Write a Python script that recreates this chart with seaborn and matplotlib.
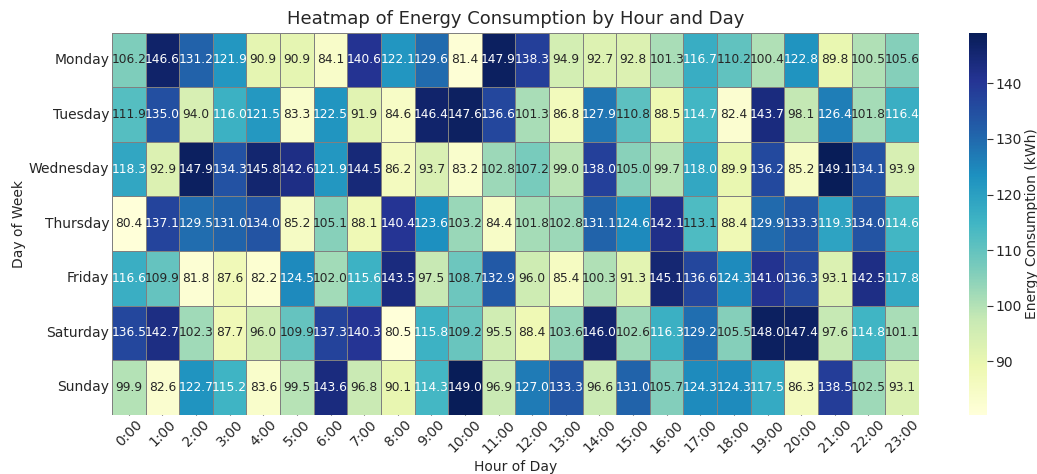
import pandas as pd
import matplotlib
matplotlib.use("Agg")
import matplotlib.pyplot as plt
import seaborn as sns

days = ["Monday", "Tuesday", "Wednesday", "Thursday", "Friday", "Saturday", "Sunday"]
hours = [f"{h}:00" for h in range(24)]

monday = [106.2, 146.6, 131.2, 121.9, 90.9, 90.9, 84.1, 140.6, 122.1, 129.6, 81.4, 147.9,
          138.3, 94.9, 92.7, 92.8, 101.3, 116.7, 110.2, 100.4, 122.8, 89.8, 100.5, 105.6]
tuesday = [111.9, 135.0, 94.0, 116.0, 121.5, 83.3, 122.5, 91.9, 84.6, 146.4, 147.6, 136.6,
           101.3, 86.8, 127.9, 110.8, 88.5, 114.7, 82.4, 143.7, 98.1, 126.4, 101.8, 116.4]
wednesday = [118.3, 92.9, 147.9, 134.3, 145.8, 142.6, 121.9, 144.5, 86.2, 93.7, 83.2, 102.8,
             107.2, 99.0, 138.0, 105.0, 99.7, 118.0, 89.9, 136.2, 85.2, 149.1, 134.1, 93.9]
thursday = [80.4, 137.1, 129.5, 131.0, 134.0, 85.2, 105.1, 88.1, 140.4, 123.6, 103.2, 84.4,
            101.8, 102.8, 131.1, 124.6, 142.1, 113.1, 88.4, 129.9, 133.3, 119.3, 134.0, 114.6]
friday = [116.6, 109.9, 81.8, 87.6, 82.2, 124.5, 102.0, 115.6, 143.5, 97.5, 108.7, 132.9,
          96.0, 85.4, 100.3, 91.3, 145.1, 136.6, 124.3, 141.0, 136.3, 93.1, 142.5, 117.8]
saturday = [136.5, 142.7, 102.3, 87.7, 96.0, 109.9, 137.3, 140.3, 80.5, 115.8, 109.2, 95.5,
            88.4, 103.6, 146.0, 102.6, 116.3, 129.2, 105.5, 148.0, 147.4, 97.6, 114.8, 101.1]
sunday = [99.9, 82.6, 122.7, 115.2, 83.6, 99.5, 143.6, 96.8, 90.1, 114.3, 149.0, 96.9,
          127.0, 133.3, 96.6, 131.0, 105.7, 124.3, 124.3, 117.5, 86.3, 138.5, 102.5, 93.1]

df = pd.DataFrame([monday, tuesday, wednesday, thursday, friday, saturday, sunday],
                  index=days, columns=hours)

sns.set_style("white")
fig = plt.figure(figsize=(10.37, 4.74), dpi=100)
ax = fig.add_axes([0.108, 0.125, 0.778, 0.806])
cax = fig.add_axes([0.934, 0.125, 0.018, 0.806])

sns.heatmap(df, ax=ax, cbar_ax=cax, cmap="YlGnBu", annot=True, fmt=".1f",
            linewidths=0.5, linecolor="gray", annot_kws={"size": 8.8},
            cbar_kws={"label": "Energy Consumption (kWh)"})

ax.set_title("Heatmap of Energy Consumption by Hour and Day", fontsize=13, pad=6)
ax.set_xlabel("Hour of Day", fontsize=10, labelpad=3)
ax.set_ylabel("Day of Week", fontsize=10, labelpad=2)
ax.tick_params(axis="both", which="both", length=4, direction="in",
               left=True, bottom=True, labelsize=10, color="#333333", pad=2)
plt.setp(ax.get_xticklabels(), rotation=45)
plt.setp(ax.get_yticklabels(), rotation=0)
cax.tick_params(length=4, right=True, labelsize=10, color="#333333", pad=2)
cax.set_ylabel("Energy Consumption (kWh)", fontsize=10, labelpad=2)

fig.savefig("out.png", dpi=100)
